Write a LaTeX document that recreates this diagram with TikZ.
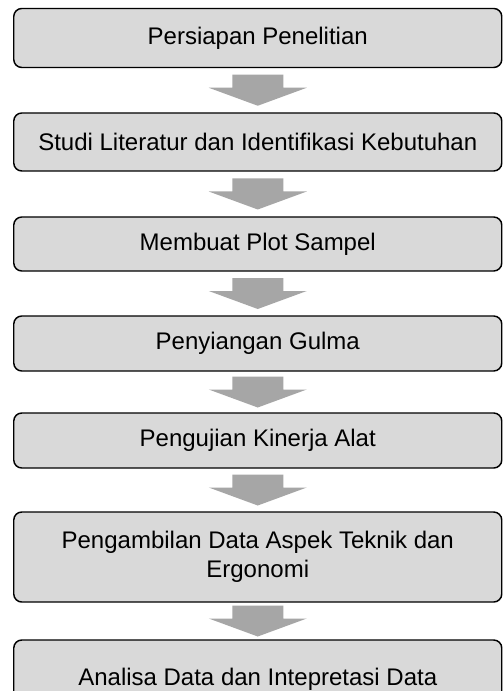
\documentclass[tikz,border=0pt]{standalone}
\usepackage{fontspec}
\setmainfont{Liberation Sans}
\usetikzlibrary{calc}
\definecolor{boxgray}{RGB}{217,217,217}
\definecolor{arrowgray}{RGB}{166,166,166}
\tikzset{
  stepbox/.style={draw=black,line width=1.1pt,fill=boxgray,rounded corners=6pt,
                  minimum width=366pt,inner sep=0pt,align=center,
                  font=\fontsize{18}{21.75}\selectfont},
  flowarrow/.style={fill=arrowgray},
}
\begin{document}
\begin{tikzpicture}[x=0.75pt,y=-0.75pt]
  \path[use as bounding box] (0,0) rectangle (503,691);
  \clip (0,0) rectangle (503,691);
  \fill[white] (0,0) rectangle (503,691);

  \node[stepbox,minimum height=44.25pt] (persiapan) at (257.75,38) {Persiapan Penelitian};
  \node[stepbox,minimum height=43.5pt] (studi) at (257.75,142) {Studi Literatur dan Identifikasi Kebutuhan};
  \node[stepbox,minimum height=40.5pt] (plot) at (257.75,244) {Membuat Plot Sampel};
  \node[stepbox,minimum height=41.25pt] (penyiangan) at (257.75,343.5) {Penyiangan Gulma};
  \node[stepbox,minimum height=41.25pt] (pengujian) at (257.75,440.5) {Pengujian Kinerja Alat};
  \node[stepbox,minimum height=67.5pt] (pengambilan) at (257.75,557)
    {Pengambilan Data Aspek Teknik dan\\Ergonomi};
  \node[stepbox,minimum height=58.5pt] (analisa) at (257.75,679) {Analisa Data dan Intepretasi Data};

  % block arrows, centred in the gap between two steps
  \foreach \a/\b in {persiapan/studi,studi/plot,plot/penyiangan,penyiangan/pengujian,
                     pengujian/pengambilan,pengambilan/analisa}{
    \coordinate (mid) at ($(\a.south)!0.5!(\b.north)$);
    \fill[flowarrow] ($(mid)+(-25.5,-15.5)$) -- ++(51,0) -- ++(0,13) -- ++(23.5,0)
      -- ($(mid)+(0,15.5)$) -- ($(mid)+(-49,-2.5)$) -- ++(23.5,0) -- cycle;
  }
\end{tikzpicture}
\end{document}
